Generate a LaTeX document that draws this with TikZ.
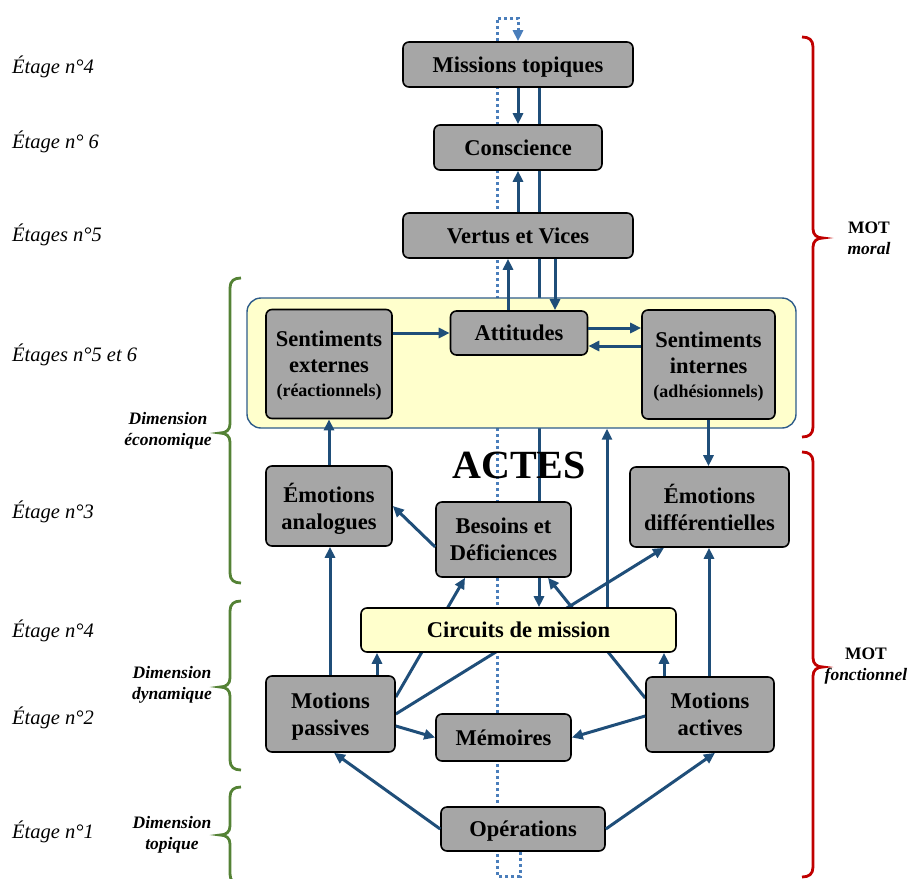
\documentclass[tikz,border=0pt]{standalone}
\usepackage{fontspec}
\setmainfont{Liberation Serif}
\usetikzlibrary{arrows.meta,backgrounds}
\definecolor{arrowblue}{RGB}{31,78,121}
\definecolor{dotblue}{RGB}{74,126,187}
\definecolor{boxgray}{RGB}{166,166,166}
\definecolor{yellowfill}{RGB}{255,255,204}
\definecolor{bigborder}{RGB}{46,92,138}
\definecolor{bracered}{RGB}{192,0,0}
\definecolor{bracegreen}{RGB}{84,130,53}
\newcommand{\myBraceLeft}[3]{\draw[gbrace] (241,#1) .. controls (234,#1) and (230,#1+3) .. (230,#1+10) -- (230,#2-9) .. controls (230,#2-3) and (226,#2) .. (220,#2) .. controls (226,#2) and (230,#2+3) .. (230,#2+9) -- (230,#3-10) .. controls (230,#3-3) and (234,#3) .. (241,#3);}
\newcommand{\myBraceRight}[3]{\draw[rbrace] (802,#1) .. controls (809,#1) and (813,#1+3) .. (813,#1+10) -- (813,#2-9) .. controls (813,#2-3) and (817,#2) .. (823,#2) .. controls (817,#2) and (813,#2+3) .. (813,#2+9) -- (813,#3-10) .. controls (813,#3-3) and (809,#3) .. (802,#3);}
\begin{document}
\begin{tikzpicture}[x=1pt,y=-1pt,
  box/.style={draw=black, line width=1.6pt, fill=boxgray, rounded corners=6pt, align=center, inner sep=0pt, text depth=0pt, font=\bfseries\fontsize{22.5}{27}\selectfont},
  ybox/.style={box, fill=yellowfill},
  arr/.style={draw=arrowblue, line width=3pt, -{Triangle[length=11pt,width=10pt]}},
  dotarr/.style={draw=dotblue, line width=3pt, dash pattern=on 3pt off 3pt, -{Triangle[length=11pt,width=10pt]}},
  etage/.style={anchor=west, inner sep=0pt, font=\itshape\fontsize{20.5}{24}\selectfont},
  dimlab/.style={align=center, inner sep=0pt, font=\bfseries\itshape\fontsize{17.5}{21}\selectfont},
  motlab/.style={align=center, inner sep=0pt, font=\bfseries\fontsize{17.5}{21}\selectfont},
  gbrace/.style={draw=bracegreen, line width=2.8pt},
  rbrace/.style={draw=bracered, line width=2.8pt}]
\useasboundingbox (0,0) rectangle (920,878);

% big yellow box
\node[draw=bigborder, line width=1.4pt, fill=yellowfill, rounded corners=14pt, minimum width=549pt, minimum height=130pt, inner sep=0pt] (big) at (521.5,363) {};

% nodes
\node[box, minimum width=230pt, minimum height=45pt] (mt) at (518,64.5) {Missions topiques};
\node[box, minimum width=168pt, minimum height=45pt] (cons) at (518,147.5) {Conscience};
\node[box, minimum width=230pt, minimum height=45pt] (vv) at (518,235.5) {Vertus et Vices};
\node[box, minimum width=126pt, minimum height=109pt] (sext) at (329,364) {Sentiments\\[-1pt]externes\\[-3pt]{\fontsize{18}{20}\selectfont (réactionnels)}};
\node[box, minimum width=137pt, minimum height=44pt] (att) at (519,333) {Attitudes};
\node[box, minimum width=133pt, minimum height=109pt] (sint) at (708.5,364.5) {Sentiments\\[-1pt]internes\\[-3pt]{\fontsize{18}{20}\selectfont (adhésionnels)}};
\node[inner sep=0pt, font=\bfseries\fontsize{40}{44}\selectfont] (actes) at (519,465) {ACTES};
\node[box, minimum width=126pt, minimum height=80pt] (ea) at (329,506) {Émotions\\analogues};
\node[box, minimum width=135pt, minimum height=75pt] (bd) at (503.5,539.5) {Besoins et\\Déficiences};
\node[box, minimum width=159pt, minimum height=80pt] (ed) at (709.5,507) {Émotions\\différentielles};
\node[ybox, minimum width=315pt, minimum height=44pt] (circ) at (518.5,630) {Circuits de mission};
\node[box, minimum width=129pt, minimum height=76pt] (mp) at (330.5,714) {Motions\\passives};
\node[box, minimum width=135pt, minimum height=47pt] (mem) at (503.5,737.5) {Mémoires};
\node[box, minimum width=128pt, minimum height=75pt] (ma) at (710,714.5) {Motions\\actives};
\node[box, minimum width=164pt, minimum height=44pt] (op) at (523,829) {Opérations};

\coordinate (lb) at (497,876);
\coordinate (lt) at (497,18);

% background connectors (behind boxes)
\begin{pgfonlayer}{background}
\draw[dotarr] ([xshift=-3pt]op.south) -- ([xshift=-3pt]op.south |- lb) -- (lb) -- (lt) -- (lt -| mt.north) -- (mt.north);
\draw[arr] ([xshift=21pt]mt.south) -- ([xshift=21pt]mt.south |- circ.north);
\draw[arr] ([yshift=17pt]mp.east) -- ([xshift=-38.5pt]bd.south);
\draw[arr] (mp.east) -- ([xshift=-45.5pt]ed.south);
\draw[arr] ([yshift=16.5pt]ma.west) -- ([xshift=44.5pt]bd.south);
\end{pgfonlayer}

% connectors
\draw[arr] (mt.south) -- (cons.north);
\draw[arr] (vv.north) -- (cons.south);
\draw[arr] ([xshift=-11pt]att.north) -- ([xshift=-11pt]att.north |- vv.south);
\draw[arr] ([xshift=36pt]att.north |- vv.south) -- ([xshift=36pt]att.north);
\draw[arr] (sext.east |- att.west) -- (att.west);
\draw[arr] ([yshift=5pt]att.east) -- ([yshift=5pt]att.east -| sint.west);
\draw[arr] ([yshift=-13pt]att.east -| sint.west) -- ([yshift=-13pt]att.east);
\draw[arr] (ea.north) -- (ea.north |- sext.south);
\draw[arr] (sint.south) -- (sint.south |- ed.north);
\draw[arr] ([yshift=-7.5pt]bd.west) -- (ea.east);
\draw[arr] ([xshift=1pt]ea.south |- mp.north) -- ([xshift=1pt]ea.south);
\draw[arr] ([xshift=88.5pt]circ.north) -- ([xshift=88.5pt]circ.north |- big.south);
\draw[arr] ([xshift=46.5pt]mp.north) -- ([xshift=46.5pt]mp.north |- circ.south);
\draw[arr] ([xshift=-46pt]ma.north) -- ([xshift=-46pt]ma.north |- circ.south);
\draw[arr] ([xshift=-1pt]ma.north) -- ([xshift=-1pt]ma.north |- ed.south);
\draw[arr] ([yshift=-12pt]mp.east) -- (mem.west);
\draw[arr] ([yshift=-1.5pt]ma.west) -- (mem.east);
\draw[arr] (op.west) -- ([xshift=3.5pt]mp.south);
\draw[arr] (op.east) -- ([xshift=5pt]ma.south);

% left labels
\node[etage] (e1) at (12,67) {Étage n°4};
\node[etage] (e2) at (12,142) {Étage n° 6};
\node[etage] (e3) at (12,235) {Étages n°5};
\node[etage] (e4) at (12,355) {Étages n°5 et 6};
\node[etage] (e5) at (12,512) {Étage n°3};
\node[etage] (e6) at (12,631) {Étage n°4};
\node[etage] (e7) at (12,718) {Étage n°2};
\node[etage] (e8) at (12,832) {Étage n°1};

\node[dimlab] (d1) at (168,431) {Dimension\\économique};
\node[dimlab] (d2) at (172,685) {Dimension\\dynamique};
\node[dimlab] (d3) at (172,835) {Dimension\\topique};

\node[motlab] (m1) at (869,238) {MOT\\\itshape moral};
\node[motlab] (m2) at (866,666) {MOT\\\itshape fonctionnel};

% braces
\myBraceLeft{278}{433}{583}
\myBraceLeft{601}{687}{770}
\myBraceLeft{787}{835}{884}
\myBraceRight{37}{238}{437}
\myBraceRight{452}{667}{877}
\end{tikzpicture}
\end{document}
